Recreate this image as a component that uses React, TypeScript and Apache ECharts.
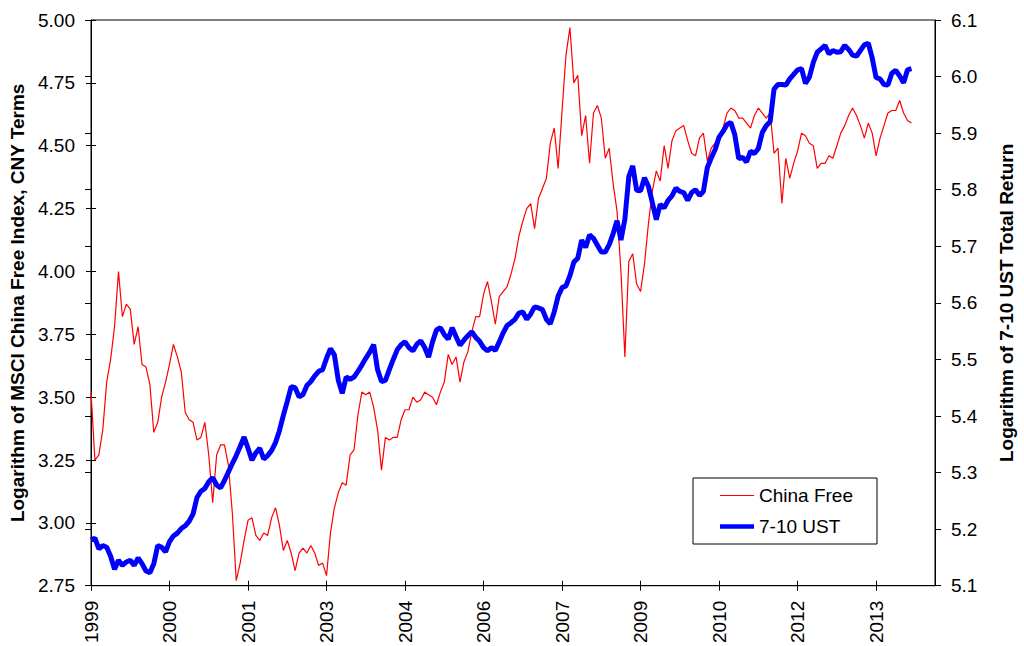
import React, { useEffect, useRef } from "react";
import * as echarts from "echarts";

// X-axis tick labels (one per tick, ticks evenly spaced)
const tickLabels = ["1999", "2000", "2001", "2003", "2004", "2006", "2007", "2009", "2010", "2012", "2013"];
// sample spacing in tick units (20 samples per tick interval)
const X_STEP = 0.05;
const X_MAX = 10.75;

// Logarithm of MSCI China Free Index, CNY terms (left axis)
const chinaFree = [
  3.52, 3.25, 3.27, 3.37, 3.56, 3.65, 3.78, 4.0, 3.82, 3.87,
  3.85, 3.71, 3.78, 3.63, 3.62, 3.55, 3.36, 3.4, 3.5, 3.56,
  3.63, 3.71, 3.66, 3.6, 3.44, 3.41, 3.4, 3.33, 3.34, 3.4,
  3.27, 3.08, 3.27, 3.31, 3.31, 3.23, 3.04, 2.77, 2.84, 2.93,
  3.01, 3.02, 2.95, 2.93, 2.96, 2.95, 3.02, 3.06, 2.99, 2.89,
  2.93, 2.88, 2.81, 2.88, 2.9, 2.88, 2.91, 2.88, 2.83, 2.84,
  2.79, 2.96, 3.06, 3.12, 3.16, 3.15, 3.27, 3.29, 3.43, 3.52,
  3.51, 3.52, 3.46, 3.37, 3.21, 3.34, 3.33, 3.34, 3.34, 3.41,
  3.45, 3.45, 3.5, 3.48, 3.49, 3.52, 3.51, 3.5, 3.47, 3.52,
  3.56, 3.67, 3.63, 3.66, 3.56, 3.64, 3.68, 3.76, 3.82, 3.82,
  3.91, 3.96, 3.88, 3.79, 3.9, 3.92, 3.94, 3.99, 4.05, 4.14,
  4.2, 4.25, 4.27, 4.17, 4.29, 4.33, 4.37, 4.51, 4.57, 4.41,
  4.64, 4.86, 4.97, 4.75, 4.78, 4.54, 4.62, 4.43, 4.63, 4.66,
  4.61, 4.45, 4.49, 4.35, 4.24, 4.0, 3.66, 4.04, 4.07, 3.95,
  3.92, 4.03, 4.19, 4.32, 4.4, 4.36, 4.5, 4.41, 4.52, 4.56,
  4.57, 4.58, 4.52, 4.47, 4.46, 4.53, 4.55, 4.44, 4.49, 4.51,
  4.54, 4.57, 4.63, 4.65, 4.64, 4.61, 4.61, 4.59, 4.57, 4.62,
  4.65, 4.63, 4.61, 4.63, 4.47, 4.49, 4.27, 4.45, 4.37, 4.43,
  4.48, 4.55, 4.54, 4.51, 4.5, 4.41, 4.43, 4.43, 4.46, 4.45,
  4.5, 4.55, 4.58, 4.62, 4.65, 4.62, 4.58, 4.53, 4.59, 4.55,
  4.46, 4.53, 4.58, 4.63, 4.64, 4.64, 4.68, 4.63, 4.6, 4.59,
];

// Logarithm of 7-10 UST total return (right axis)
const ust710 = [
  5.181, 5.184, 5.165, 5.171, 5.168, 5.152, 5.129, 5.145, 5.136, 5.142,
  5.145, 5.136, 5.149, 5.139, 5.126, 5.123, 5.139, 5.171, 5.168, 5.16,
  5.178, 5.188, 5.193, 5.201, 5.206, 5.214, 5.227, 5.256, 5.267, 5.272,
  5.284, 5.291, 5.278, 5.273, 5.286, 5.301, 5.316, 5.33, 5.346, 5.363,
  5.343, 5.322, 5.335, 5.343, 5.324, 5.33, 5.339, 5.353, 5.374, 5.401,
  5.426, 5.452, 5.45, 5.434, 5.438, 5.454, 5.461, 5.471, 5.479, 5.482,
  5.502, 5.519, 5.508, 5.463, 5.44, 5.469, 5.465, 5.469, 5.479, 5.49,
  5.502, 5.513, 5.526, 5.482, 5.461, 5.463, 5.482, 5.5, 5.517, 5.526,
  5.531, 5.521, 5.515, 5.527, 5.533, 5.521, 5.504, 5.531, 5.552, 5.556,
  5.544, 5.536, 5.556, 5.54, 5.525, 5.534, 5.542, 5.549, 5.539, 5.532,
  5.521, 5.515, 5.521, 5.516, 5.531, 5.547, 5.56, 5.565, 5.571, 5.582,
  5.584, 5.571, 5.58, 5.593, 5.591, 5.588, 5.571, 5.563, 5.584, 5.612,
  5.627, 5.63, 5.648, 5.672, 5.679, 5.711, 5.698, 5.72, 5.714, 5.702,
  5.69, 5.69, 5.703, 5.722, 5.745, 5.711, 5.748, 5.823, 5.842, 5.799,
  5.798, 5.821, 5.806, 5.777, 5.747, 5.774, 5.768, 5.781, 5.789, 5.803,
  5.797, 5.795, 5.781, 5.795, 5.8, 5.79, 5.797, 5.839, 5.856, 5.871,
  5.893, 5.903, 5.915, 5.919, 5.897, 5.855, 5.857, 5.849, 5.868, 5.864,
  5.873, 5.901, 5.913, 5.92, 5.978, 5.986, 5.986, 5.985, 5.996, 6.004,
  6.012, 6.014, 5.988, 5.999, 6.025, 6.043, 6.049, 6.055, 6.04, 6.046,
  6.043, 6.044, 6.055, 6.048, 6.038, 6.036, 6.046, 6.056, 6.059, 6.033,
  5.998, 5.996, 5.986, 5.985, 6.006, 6.011, 6.001, 5.989, 6.012, 6.014,
];

const FONT = "'Liberation Sans', Arial, Helvetica, sans-serif";

export default function App() {
  const ref = useRef<HTMLDivElement>(null);

  useEffect(() => {
    if (!ref.current) return;
    const chart = echarts.init(ref.current, undefined, { renderer: "svg" });
    const tickValues = tickLabels.map((_, i) => i);
    const axisLineStyle = { color: "#000", width: 1 };
    const labelStyle = { color: "#000", fontSize: 19, fontFamily: FONT };

    const leftY = { min: 2.75, max: 5, interval: 0.25 };
    const rightY = { min: 5.1, max: 6.1, interval: 0.1 };

    chart.setOption({
      animation: false,
      backgroundColor: "#fff",
      grid: {
        left: 90,
        right: 72,
        top: 20,
        bottom: 60,
        show: true,
        borderColor: "#000",
        borderWidth: 1,
        backgroundColor: "transparent",
      },
      legend: {
        orient: "vertical",
        left: 693,
        top: 478,
        itemWidth: 34,
        itemHeight: 14,
        itemGap: 12,
        padding: [8, 24, 8, 27],
        borderColor: "#000",
        borderWidth: 1,
        backgroundColor: "#fff",
        symbolKeepAspect: true,
        textStyle: { color: "#000", fontSize: 19, fontFamily: FONT },
        data: [
          { name: "China Free", icon: "path://M0,0H34V1.2H0Z" },
          { name: "7-10 UST", icon: "path://M0,0H34V4.5H0Z" },
        ],
      },
      xAxis: [
        {
          type: "value",
          min: 0,
          max: X_MAX,
          position: "bottom",
          axisLine: { show: true, onZero: false, lineStyle: axisLineStyle },
          axisTick: { show: true, length: 5, inside: false, customValues: tickValues, lineStyle: axisLineStyle },
          axisLabel: {
            ...labelStyle,
            rotate: 90,
            margin: 15,
            customValues: tickValues,
            formatter: (v: number) => tickLabels[Math.round(v)] ?? "",
          },
          splitLine: { show: false },
        },
        {
          type: "value",
          min: 0,
          max: X_MAX,
          position: "bottom",
          axisLine: { show: false },
          axisTick: { show: true, length: 5, inside: true, customValues: tickValues, lineStyle: axisLineStyle },
          axisLabel: { show: false },
          splitLine: { show: false },
        },
      ],
      yAxis: [
        {
          type: "value",
          position: "left",
          ...leftY,
          name: "Logarithm of MSCI China Free Index, CNY Terms",
          nameLocation: "middle",
          nameRotate: 90,
          nameGap: 64,
          nameTextStyle: { color: "#000", fontSize: 19, fontWeight: "bold", fontFamily: FONT },
          axisLine: { show: true, onZero: false, lineStyle: axisLineStyle },
          axisTick: { show: true, length: 5, inside: false, lineStyle: axisLineStyle },
          axisLabel: { ...labelStyle, margin: 16, formatter: (v: number) => v.toFixed(2) },
          splitLine: { show: false },
        },
        {
          type: "value",
          position: "right",
          ...rightY,
          name: "Logarithm of 7-10 UST Total Return",
          nameLocation: "middle",
          nameRotate: 90,
          nameGap: 62,
          nameTextStyle: { color: "#000", fontSize: 19, fontWeight: "bold", fontFamily: FONT },
          axisLine: { show: true, onZero: false, lineStyle: axisLineStyle },
          axisTick: { show: true, length: 6, inside: false, lineStyle: axisLineStyle },
          axisLabel: { ...labelStyle, margin: 16, formatter: (v: number) => v.toFixed(1) },
          splitLine: { show: false },
        },
        {
          type: "value",
          position: "left",
          ...leftY,
          axisLine: { show: false },
          axisTick: { show: true, length: 5, inside: true, lineStyle: axisLineStyle },
          axisLabel: { show: false },
          splitLine: { show: false },
        },
        {
          type: "value",
          position: "right",
          ...rightY,
          axisLine: { show: false },
          axisTick: { show: true, length: 6, inside: true, lineStyle: axisLineStyle },
          axisLabel: { show: false },
          splitLine: { show: false },
        },
      ],
      series: [
        {
          name: "China Free",
          type: "line",
          xAxisIndex: 0,
          yAxisIndex: 0,
          showSymbol: false,
          symbol: "none",
          lineStyle: { color: "#ff0000", width: 1.2 },
          itemStyle: { color: "#ff0000" },
          data: chinaFree.map((v, i) => [i * X_STEP, v]),
          z: 2,
        },
        {
          name: "7-10 UST",
          type: "line",
          xAxisIndex: 0,
          yAxisIndex: 1,
          showSymbol: false,
          symbol: "none",
          lineStyle: { color: "#0000ff", width: 5 },
          itemStyle: { color: "#0000ff" },
          data: ust710.map((v, i) => [i * X_STEP, v]),
          z: 3,
        },
      ],
    });
    return () => chart.dispose();
  }, []);

  return (
    <div
      ref={ref}
      style={{ position: "fixed", left: 0, top: 0, width: 1024, height: 646, background: "#fff" }}
    />
  );
}
